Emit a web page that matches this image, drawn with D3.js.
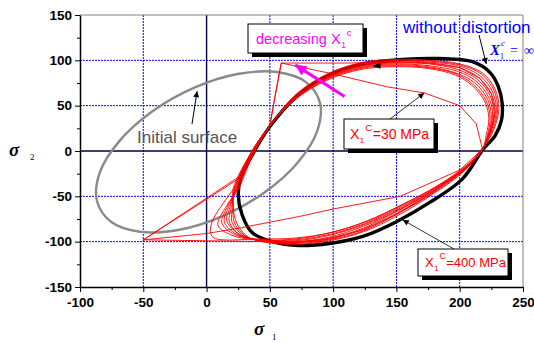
<!DOCTYPE html>
<html><head><meta charset="utf-8">
<script src="https://cdn.jsdelivr.net/npm/d3@7"></script>
<style>body{margin:0;background:#fff}svg{display:block}</style>
</head><body>
<svg id="c" width="534" height="343"></svg>
<script>
// ---- data (sigma1, sigma2) in MPa ----
const xTicks = [-100, -50, 0, 50, 100, 150, 200, 250];
const yTicks = [-150, -100, -50, 0, 50, 100, 150];
const xMinor = [-75, -25, 25, 75, 125, 175, 225];
const yMinor = [-125, -75, -25, 25, 75, 125];

const initialSurface = [[78.5,76],[89.6,53.1],[87.4,21.9],[72.1,-12.6],[46,-45.5],[13.1,-71.6],[-21.4,-86.9],[-52.6,-89.1],[-75.5,-78],[-86.6,-55.1],[-84.4,-23.9],[-69.1,10.6],[-43,43.5],[-10.1,69.6],[24.4,84.9],[55.6,87.1]];

const withoutDistortion = [[25,-48],[27,-30],[37,-2],[50,27],[71,60],[97,84],[124,96],[155,101],[184,102],[210,98.5],[224,86.5],[230.5,71],[233.5,53],[233,34],[228,17],[218,1],[202,-31],[176,-57],[150,-78],[124,-94],[97,-102],[70,-104],[52,-100],[36,-90],[28,-70]];

const redX400 = [[21,-42],[36,0],[50,28],[71,63],[97,86],[124,98],[150,101],[176,100],[200,96],[218,86],[228,68],[231,47],[227,24],[218,2],[202,-24],[176,-50],[150,-72],[124,-89],[97,-99],[71,-103],[48,-101],[33,-95],[24,-80],[21,-62]];
const redX300 = [[22,-42],[36,0],[50,28],[71,62],[97,85],[124,97],[150,100],[176,99],[200,95],[217,85],[227,67],[230,46],[226,23],[218,2],[203,-22],[177,-48],[150,-70],[124,-88],[97,-98],[71,-102],[47,-100],[31,-94],[22,-79],[21,-62]];
const redX200 = [[22,-42],[36,0],[50,28],[71,61],[97,84],[124,96],[150,99],[176,98],[199,94],[216,83],[226,65],[229,45],[225,23],[218,2],[204,-20],[178,-46],[151,-68],[124,-86],[97,-97],[71,-101],[46,-100],[29,-93],[20,-78],[21,-60]];
const redX150 = [[23,-42],[37,0],[50,28],[71,60],[97,83],[124,95],[150,98],[176,97],[199,92],[215,81],[225,63],[228,44],[224,22],[218,2],[205,-19],[179,-44],[151,-66],[124,-85],[97,-96],[71,-100],[45,-99],[27,-93],[18,-78],[20,-60]];
const redX120 = [[23,-42],[37,0],[50,28],[71,59],[96,82],[123,94],[150,97],[176,96],[198,90],[214,79],[224,61],[227,42],[224,21],[218,2],[205,-18],[180,-43],[152,-65],[124,-83],[97,-95],[70,-100],[44,-99],[26,-92],[16,-77],[19,-60]];
const redX100 = [[24,-42],[37,0],[50,28],[70,58.5],[96,81],[123,93],[150,96],[176,94],[198,88],[213,77],[223,59],[226,40],[223,20],[218,2],[206,-17],[181,-41],[153,-63],[125,-81],[97,-93],[70,-99],[43,-98],[24,-92],[14,-78],[18,-60]];
const redX80 = [[24,-42],[38,0],[50,28],[70,58],[95,80],[122,92],[150,95],[175,93],[197,86],[212,75],[222,57],[225,39],[223,19],[218,2],[206,-16],[182,-40],[154,-61],[125,-80],[97,-92],[70,-98],[42,-98],[22,-92],[12,-79],[17,-60]];
const redX60 = [[25,-42],[38,0],[50,28],[70,57],[95,79],[122,91],[149,94],[175,92],[197,85],[211,73],[221,55],[224,37],[222,18],[218,2],[207,-15],[183,-38],[155,-59],[126,-78],[98,-90],[70,-97],[41,-98],[20,-93],[9,-82],[16,-60]];
const redX50 = [[22,-40],[36,0],[50,28],[70,57],[95,78],[122,90],[149,93],[175,91],[196,84],[210,72],[220,54],[223,36],[221,18],[218,2],[207,-14],[184,-37],[156,-58],[127,-77],[98,-90],[70,-96],[42,-97],[6,-96],[3,-89],[5,-76],[13,-58]];
const redX40 = [[-50,-98],[0,-99],[50,-100],[71,-101],[97,-97],[124,-87],[150,-70],[176,-48],[203,-21],[218,2],[225,22],[228,43],[225,63],[216,80],[200,92],[176,97],[150,98],[110,97],[59,97],[54,60],[50,28],[38,0],[26,-30]];
const redX30 = [[-50,-98],[26,-28],[38,2],[50,28],[59,97],[100,85],[142,71],[172,64],[200,50],[213,30],[218,2],[200,-21],[153,-50],[100,-64],[74,-72],[26,-85],[0,-91]];

// ---- drawing ----
const svg = d3.select('#c');
const x = d3.scaleLinear().domain([-100, 250]).range([80, 523]);
const y = d3.scaleLinear().domain([-150, 150]).range([287, 15]);
const FONT = 'Arial, "Liberation Sans", sans-serif';
const SERIF = '"Times New Roman", "Liberation Serif", serif';

const defs = svg.append('defs');
function marker(id, color, w, h) {
  defs.append('marker').attr('id', id).attr('viewBox', '0 0 10 10')
    .attr('refX', 10).attr('refY', 5).attr('markerWidth', w).attr('markerHeight', h)
    .attr('markerUnits', 'userSpaceOnUse').attr('orient', 'auto')
    .append('path').attr('d', 'M0,0 L10,5 L0,10 Z').attr('fill', color);
}
marker('ab', '#000', 8, 6);
marker('am', '#ff00ff', 13, 11);

// grid
const g = svg.append('g');
xTicks.slice(1, -1).forEach(v => {
  g.append('line').attr('x1', x(v)).attr('x2', x(v)).attr('y1', y(150)).attr('y2', y(-150))
    .attr('stroke', v === 0 ? '#000040' : '#0000ff').attr('stroke-width', v === 0 ? 1.4 : 1)
    .attr('stroke-dasharray', v === 0 ? null : '2,1');
});
yTicks.slice(1, -1).forEach(v => {
  g.append('line').attr('y1', y(v)).attr('y2', y(v)).attr('x1', x(-100)).attr('x2', x(250))
    .attr('stroke', v === 0 ? '#000040' : '#0000ff').attr('stroke-width', v === 0 ? 1.4 : 1)
    .attr('stroke-dasharray', v === 0 ? null : '2,1');
});
// top & right frame
svg.append('path').attr('d', `M${x(-100)},${y(150)}H${x(250)}V${y(-150)}`)
  .attr('fill', 'none').attr('stroke', '#808080').attr('stroke-width', 1);

const closedSmooth = d3.line().x(d => x(d[0])).y(d => y(d[1])).curve(d3.curveCatmullRomClosed.alpha(0.5));
const closedLinear = d3.line().x(d => x(d[0])).y(d => y(d[1])).curve(d3.curveLinearClosed);

svg.append('path').attr('d', closedSmooth(initialSurface)).attr('fill', 'none')
  .attr('stroke', '#8a8a8a').attr('stroke-width', 2.4);
svg.append('path').attr('d', closedSmooth(withoutDistortion)).attr('fill', 'none')
  .attr('stroke', '#000').attr('stroke-width', 3.4);

const redSmooth = [redX400, redX300, redX200, redX150, redX120, redX100, redX80, redX60, redX50];
redSmooth.forEach(c => svg.append('path').attr('d', closedSmooth(c)).attr('fill', 'none')
  .attr('stroke', '#ff0000').attr('stroke-width', 0.9));
[redX40, redX30].forEach(c => svg.append('path').attr('d', closedLinear(c)).attr('fill', 'none')
  .attr('stroke', '#ff0000').attr('stroke-width', 0.9).attr('stroke-linejoin', 'miter'));

// axes
svg.append('g').attr('transform', `translate(0,${y(-150)})`)
  .call(d3.axisBottom(x).tickValues(xTicks).tickSize(5).tickSizeOuter(0).tickPadding(5).tickFormat(d => String(d)));
svg.append('g').attr('transform', `translate(0,${y(-150)})`)
  .call(d3.axisBottom(x).tickValues(xMinor).tickSize(3).tickSizeOuter(0).tickFormat(''))
  .select('.domain').remove();
svg.append('g').attr('transform', `translate(${x(-100)},0)`)
  .call(d3.axisLeft(y).tickValues(yTicks).tickSize(5).tickSizeOuter(0).tickPadding(3).tickFormat(d => String(d)));
svg.append('g').attr('transform', `translate(${x(-100)},0)`)
  .call(d3.axisLeft(y).tickValues(yMinor).tickSize(3).tickSizeOuter(0).tickFormat(''))
  .select('.domain').remove();
svg.selectAll('.domain').attr('stroke', '#000').attr('stroke-width', 1.5);
svg.selectAll('.tick line').attr('stroke', '#000').attr('stroke-width', 1);
svg.selectAll('.tick text').attr('font-family', FONT).attr('font-weight', 'bold')
  .attr('font-size', 13.5).attr('fill', '#000');

// axis titles
function txt(xp, yp, s, opts) {
  const t = svg.append('text').attr('x', xp).attr('y', yp).text(s)
    .attr('font-family', opts.family || FONT).attr('font-size', opts.size)
    .attr('fill', opts.fill || '#000');
  if (opts.weight) t.attr('font-weight', opts.weight);
  if (opts.style) t.attr('font-style', opts.style);
  if (opts.anchor) t.attr('text-anchor', opts.anchor);
  return t;
}
txt(9, 156, 'σ', {family: SERIF, size: 19, weight: 'bold', style: 'italic'});
txt(30, 160, '2', {family: SERIF, size: 9});
txt(254, 335, 'σ', {family: SERIF, size: 19, weight: 'bold', style: 'italic'});
txt(272, 340, '1', {family: SERIF, size: 9});

// boxes with shadow
function box(x0, y0, x1, y1) {
  svg.append('rect').attr('x', x0 + 4).attr('y', y0 + 4).attr('width', x1 - x0).attr('height', y1 - y0).attr('fill', '#000');
  svg.append('rect').attr('x', x0).attr('y', y0).attr('width', x1 - x0).attr('height', y1 - y0)
    .attr('fill', '#fff').attr('stroke', '#000').attr('stroke-width', 1);
}
function xLabel(x0, base, color, size, pre, sup, post) {
  const a = txt(x0, base, pre, {size: size, fill: color});
  const w = a.node().getComputedTextLength();
  const s1 = txt(x0 + w + 0.5, base + 4, '1', {size: size * 0.58, fill: color});
  const w1 = s1.node().getComputedTextLength();
  const s2 = txt(x0 + w + w1 + 1.5, base - 8, sup, {size: size * 0.68, fill: color});
  const w2 = s2.node().getComputedTextLength();
  if (post) txt(x0 + w + w1 + w2 + 2, base, post, {size: size, fill: color});
}

// decreasing X1c
box(248, 24, 363, 53);
xLabel(256, 44, '#ff00ff', 14.5, 'decreasing X', 'c', '');
svg.append('line').attr('x1', x(109)).attr('y1', y(60)).attr('x2', x(70)).attr('y2', y(95))
  .attr('stroke', '#ff00ff').attr('stroke-width', 3).attr('marker-end', 'url(#am)');

// without distortion
txt(403, 33, 'without distortion', {size: 17, fill: '#0000ff'});
txt(490, 55, 'X', {family: SERIF, size: 15, weight: 'bold', style: 'italic', fill: '#0000ff'});
txt(500, 59, '1', {family: SERIF, size: 8, fill: '#0000ff'});
txt(501, 46, 'c', {family: SERIF, size: 9, style: 'italic', fill: '#0000ff'});
txt(510, 55, '=', {family: SERIF, size: 14, fill: '#0000ff'});
txt(524, 55, '∞', {family: SERIF, size: 14, fill: '#0000ff'});
svg.append('line').attr('x1', 479).attr('y1', 35).attr('x2', x(221)).attr('y2', y(96))
  .attr('stroke', '#000').attr('stroke-width', 1).attr('marker-end', 'url(#ab)');

// X1c=30 MPa
box(344, 119, 434, 149);
svg.append('line').attr('x1', 390).attr('y1', 119).attr('x2', x(172)).attr('y2', y(64))
  .attr('stroke', '#000').attr('stroke-width', 0.8).attr('marker-end', 'url(#ab)');
xLabel(350, 139, '#ff0000', 14, 'X', 'C', '=30 MPa');

// X1c=400 MPa
box(418, 249, 508, 276);
svg.append('line').attr('x1', 454).attr('y1', 249).attr('x2', x(155)).attr('y2', y(-76))
  .attr('stroke', '#000').attr('stroke-width', 0.8).attr('marker-end', 'url(#ab)');
xLabel(425, 267, '#ff0000', 13, 'X', 'C', '=400 MPa');

// Initial surface
txt(137, 143, 'Initial surface', {size: 17, fill: '#555'});
svg.append('line').attr('x1', 192).attr('y1', 124).attr('x2', x(-7.5)).attr('y2', y(66))
  .attr('stroke', '#000').attr('stroke-width', 1).attr('marker-end', 'url(#ab)');

// small direction arrowhead on top of the curves
const ax = x(135), ay = y(94);
svg.append('path').attr('d', `M${ax - 5},${ay} L${ax + 3},${ay - 3} L${ax + 3},${ay + 3} Z`).attr('fill', '#000');
</script>
</body></html>
